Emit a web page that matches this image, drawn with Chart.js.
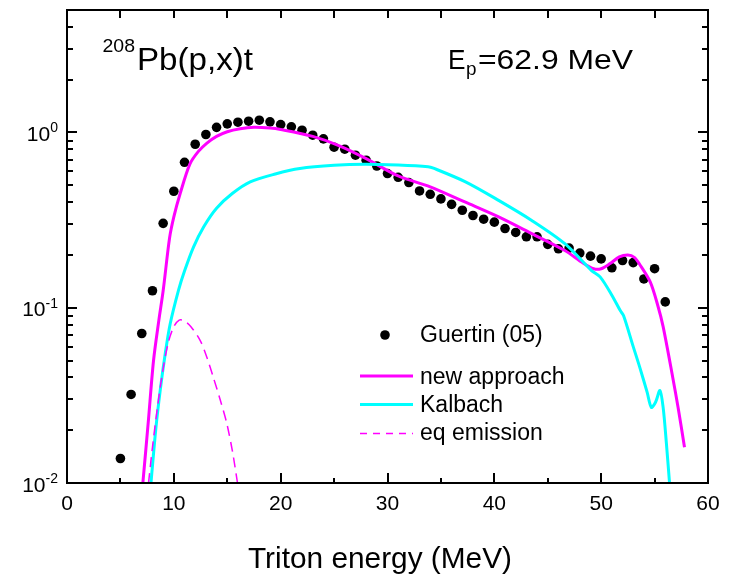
<!DOCTYPE html>
<html>
<head>
<meta charset="utf-8">
<script src="https://cdn.jsdelivr.net/npm/chart.js@4.4.0/dist/chart.umd.min.js"></script>
<style>
  html, body { margin: 0; padding: 0; background: #fff; }
</style>
</head>
<body>
<canvas id="chart" width="730" height="579"></canvas>
<script>
// Guertin (05) data points
const guertinE = [5, 6, 7, 8, 9, 10, 11, 12, 13, 14, 15, 16, 17, 18, 19, 20, 21, 22, 23, 24, 25,
  26, 27, 28, 29, 30, 31, 32, 33, 34, 35, 36, 37, 38, 39, 40, 41, 42, 43, 44, 45, 46, 47, 48,
  49, 50, 51, 52, 53, 54, 55, 56];
const guertinY = [0.0138, 0.032, 0.0713, 0.125, 0.303, 0.462, 0.676, 0.857, 0.974, 1.07, 1.12,
  1.145, 1.16, 1.175, 1.15, 1.11, 1.077, 1.03, 0.965, 0.92, 0.824, 0.803, 0.742, 0.695, 0.644,
  0.583, 0.555, 0.518, 0.464, 0.444, 0.418, 0.389, 0.36, 0.336, 0.32, 0.308, 0.283, 0.269,
  0.254, 0.254, 0.23, 0.217, 0.219, 0.205, 0.197, 0.19, 0.169, 0.186, 0.181, 0.146, 0.167, 0.108];

// new approach
const newE = [7.1, 7.6, 8.1, 8.6, 9.0, 9.6, 10.0, 10.6, 11.5, 12.3, 13.1, 14.0, 15.0, 16.2, 17.5,
  19.0, 20.0, 23.0, 25.5, 28.0, 31.0, 34.0, 37.3, 40.4, 43.5, 46.6, 48.3, 49.3, 50.0, 50.8, 51.7,
  52.5, 53.1, 53.6, 54.6, 55.3, 55.8, 56.7, 57.2, 57.8];
const newY = [0.01, 0.022, 0.05, 0.085, 0.125, 0.25, 0.33, 0.45, 0.66, 0.78, 0.87, 0.95, 1.01,
  1.05, 1.07, 1.06, 1.04, 0.95, 0.84, 0.71, 0.565, 0.49, 0.40, 0.33, 0.265, 0.212, 0.18, 0.167,
  0.167, 0.178, 0.195, 0.2, 0.194, 0.177, 0.14, 0.103, 0.078, 0.04, 0.027, 0.016];

// Kalbach
const kalE = [7.86, 8.3, 8.73, 9.2, 9.66, 10.44, 11.0, 11.84, 12.8, 14.0, 15.5, 17.15, 19.5, 21.8,
  25.0, 27.9, 31.0, 33.8, 34.3, 37.3, 40.4, 43.5, 46.6, 49.1, 49.9, 51.0, 51.8, 52.1, 53.0, 53.6,
  54.3, 54.7, 55.1, 55.5, 55.8, 56.1, 56.4];
const kalY = [0.01, 0.02, 0.034, 0.055, 0.081, 0.126, 0.162, 0.222, 0.29, 0.37, 0.45, 0.523,
  0.58, 0.623, 0.65, 0.659, 0.652, 0.638, 0.626, 0.523, 0.41, 0.315, 0.232, 0.163, 0.15, 0.118,
  0.096, 0.09, 0.06, 0.046, 0.033, 0.027, 0.029, 0.0337, 0.027, 0.017, 0.01];

// eq emission
const eqE = [7.63, 8.0, 8.5, 9.0, 9.5, 10.0, 10.5, 11.0, 11.6, 12.47, 13.1, 13.7, 14.4, 14.97,
  15.5, 15.96];
const eqY = [0.01, 0.016, 0.028, 0.045, 0.064, 0.078, 0.085, 0.084, 0.078, 0.065, 0.052, 0.04,
  0.029, 0.0217, 0.015, 0.01];

const xTicks = [0, 10, 20, 30, 40, 50, 60];
const yDecades = [0.01, 0.1, 1];
const yDecadeExp = ['-2', '-1', '0'];

const FONT = '"Liberation Sans", Arial, sans-serif';
const pts = (xs, ys) => xs.map((x, i) => ({ x, y: ys[i] }));

function fitText(ctx, s, x, y, size, width) {
  ctx.font = size + 'px ' + FONT;
  const w = ctx.measureText(s).width;
  ctx.save();
  ctx.translate(x, y);
  ctx.scale(width ? width / w : 1, 1);
  ctx.fillText(s, 0, 0);
  ctx.restore();
}

const framePlugin = {
  id: 'frame',
  afterDraw(chart) {
    const ctx = chart.ctx;
    const { left, right, top, bottom } = chart.chartArea;
    const xs = chart.scales.x, ys = chart.scales.y;
    ctx.save();
    ctx.strokeStyle = '#000';
    ctx.fillStyle = '#000';
    ctx.lineWidth = 2;
    ctx.strokeRect(left, top, right - left, bottom - top);

    // x ticks
    ctx.beginPath();
    for (let v = 0; v <= 60; v += 5) {
      const px = Math.round(xs.getPixelForValue(v));
      const len = v % 10 === 0 ? 10 : 5;
      ctx.moveTo(px, bottom); ctx.lineTo(px, bottom - len);
      ctx.moveTo(px, top); ctx.lineTo(px, top + 8);
    }
    // y ticks (log)
    yDecades.forEach(d => {
      for (let k = 1; k <= 9; k++) {
        const v = d * k;
        if (v > ys.max + 1e-9) break;
        const py = Math.round(ys.getPixelForValue(v));
        const len = k === 1 ? 10 : 6;
        ctx.moveTo(left, py); ctx.lineTo(left + len, py);
        ctx.moveTo(right, py); ctx.lineTo(right - len, py);
      }
    });
    ctx.stroke();

    // x tick labels
    ctx.textAlign = 'center';
    ctx.font = '21px ' + FONT;
    xTicks.forEach(v => ctx.fillText(String(v), xs.getPixelForValue(v), 510));

    // y tick labels 10^n
    ctx.textAlign = 'left';
    yDecades.forEach((d, i) => {
      const py = ys.getPixelForValue(d);
      ctx.font = '14px ' + FONT;
      const sw = ctx.measureText(yDecadeExp[i]).width;
      ctx.font = '21px ' + FONT;
      const mw = ctx.measureText('10').width;
      const x0 = 58 - sw - mw;
      ctx.fillText('10', x0, py + 8.5);
      ctx.font = '14px ' + FONT;
      ctx.fillText(yDecadeExp[i], x0 + mw, py);
    });

    // axis title
    ctx.textAlign = 'left';
    fitText(ctx, 'Triton energy (MeV)', 248, 568, 29, 264);

    // annotations
    fitText(ctx, '208', 102.5, 52, 19, 32.5);
    fitText(ctx, 'Pb(p,x)t', 137, 70, 31, 116);
    fitText(ctx, 'E', 448, 69, 27, 17.5);
    fitText(ctx, 'p', 466, 75, 18, 10.5);
    fitText(ctx, '=62.9 MeV', 478, 69, 27, 155);

    // legend
    const lx0 = 360, lx1 = 413, tx = 420;
    ctx.beginPath();
    ctx.arc(385, 335, 4.8, 0, Math.PI * 2);
    ctx.fill();
    ctx.font = '23px ' + FONT;
    ctx.fillText('Guertin (05)', tx, 342);
    const items = [
      { label: 'new approach', color: '#ff00ff', w: 3, dash: [], y: 376, ty: 383.5 },
      { label: 'Kalbach', color: '#00ffff', w: 3, dash: [], y: 404.5, ty: 412 },
      { label: 'eq emission', color: '#ff00ff', w: 1.5, dash: [7, 6], y: 433.5, ty: 440 }
    ];
    items.forEach(it => {
      ctx.save();
      ctx.strokeStyle = it.color;
      ctx.lineWidth = it.w;
      ctx.setLineDash(it.dash);
      ctx.beginPath();
      ctx.moveTo(lx0, it.y); ctx.lineTo(lx1, it.y);
      ctx.stroke();
      ctx.restore();
      ctx.fillText(it.label, tx, it.ty);
    });
    ctx.restore();
  }
};

new Chart(document.getElementById('chart'), {
  type: 'scatter',
  data: {
    datasets: [
      {
        label: 'eq emission', data: pts(eqE, eqY), showLine: true, pointRadius: 0,
        borderColor: '#ff00ff', borderWidth: 1.5, borderDash: [10, 6], tension: 0.3
      },
      {
        label: 'Kalbach', data: pts(kalE, kalY), showLine: true, pointRadius: 0,
        borderColor: '#00ffff', borderWidth: 3, tension: 0.3
      },
      {
        label: 'new approach', data: pts(newE, newY), showLine: true, pointRadius: 0,
        borderColor: '#ff00ff', borderWidth: 3, tension: 0.3
      },
      {
        label: 'Guertin (05)', data: pts(guertinE, guertinY), showLine: false,
        pointRadius: 4.8, backgroundColor: '#000', borderWidth: 0
      }
    ]
  },
  options: {
    responsive: false,
    animation: false,
    layout: { padding: { left: 67, top: 10, right: 22, bottom: 96 } },
    plugins: { legend: { display: false }, tooltip: { enabled: false } },
    scales: {
      x: { type: 'linear', min: 0, max: 60, display: false },
      y: { type: 'logarithmic', min: 0.01, max: 5, display: false }
    }
  },
  plugins: [framePlugin]
});
</script>
</body>
</html>
